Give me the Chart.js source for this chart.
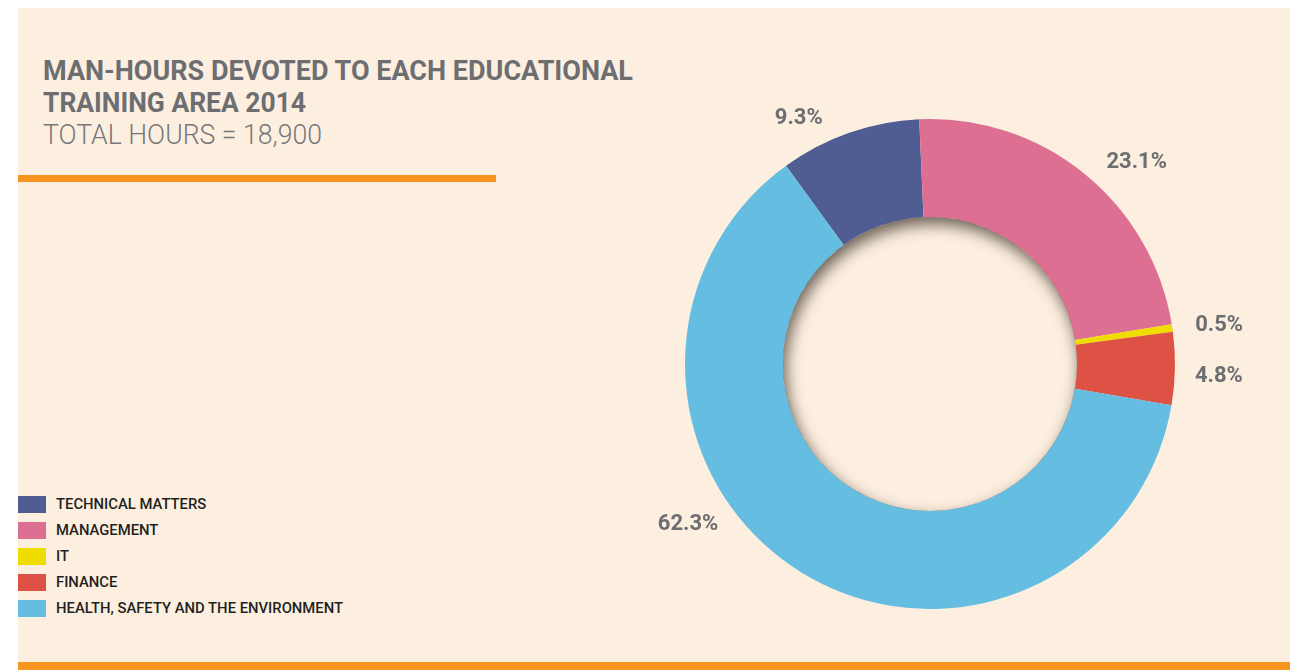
<!DOCTYPE html>
<html>
<head>
<meta charset="utf-8">
<script src="https://cdn.jsdelivr.net/npm/chart.js@4.4.1/dist/chart.umd.min.js"></script>
<style>
  html, body { margin: 0; padding: 0; background: #ffffff; }
  body { width: 1290px; height: 670px; position: relative; overflow: hidden; font-family: Roboto, "Open Sans", sans-serif; }
  #panel { position: absolute; left: 18px; top: 8px; width: 1272px; height: 654px; background: #fdefe0; }
  #bottomBar { position: absolute; left: 18px; top: 662px; width: 1272px; height: 8px; background: #f7941d; }
  #titleRule { position: absolute; left: 18px; top: 175px; width: 478px; height: 7px; background: #f7941d; }
  .tline { position: absolute; left: 43px; white-space: nowrap; font-size: 28px; line-height: 28px; color: #6d6e71; transform-origin: 0 0; }
  #t1, #t2 { font-weight: 700; }
  #t3 { font-weight: 300; color: #76777a; }
  #legend { position: absolute; left: 18px; top: 496px; }
  .lrow { display: flex; align-items: center; height: 17px; margin-bottom: 9px; }
  .sw { width: 28px; height: 17px; flex: none; }
  .lt { margin-left: 10px; font-size: 15.5px; line-height: 17px; font-weight: 500; color: #231f20; white-space: nowrap; transform-origin: 0 50%; display: inline-block; }
  #wrap { position: absolute; left: 0; top: 0; width: 1290px; height: 670px; }
</style>
</head>
<body>
<div id="panel"></div>
<div id="titleRule"></div>
<div id="bottomBar"></div>
<div class="tline" id="t1"></div>
<div class="tline" id="t2"></div>
<div class="tline" id="t3"></div>
<div id="legend"></div>
<div id="wrap"><canvas id="c" width="1290" height="670"></canvas></div>
<script>
// ---- data ----
const titleLines = ["MAN-HOURS DEVOTED TO EACH EDUCATIONAL", "TRAINING AREA 2014", "TOTAL HOURS = 18,900"];
const categories = ["TECHNICAL MATTERS", "MANAGEMENT", "IT", "FINANCE", "HEALTH, SAFETY AND THE ENVIRONMENT"];
const shares = [9.3, 23.1, 0.5, 4.8, 62.3];
const colors = ["#4f5d93", "#dd6f93", "#efdc00", "#dd5245", "#65bde2"];

// ---- title ----
const titleTops = [57, 89, 120.5];
const titleWidths = [590, 263, 279];
["t1","t2","t3"].forEach((id, i) => {
  const el = document.getElementById(id);
  el.textContent = titleLines[i];
  el.style.top = titleTops[i] + "px";
  const w = el.getBoundingClientRect().width;
  el.style.transform = "scaleX(" + (titleWidths[i] / w) + ")";
});

// ---- legend ----
const legend = document.getElementById("legend");
const spans = [];
categories.forEach((c, i) => {
  const row = document.createElement("div");
  row.className = "lrow";
  const sw = document.createElement("div");
  sw.className = "sw"; sw.style.background = colors[i];
  const t = document.createElement("span");
  t.className = "lt"; t.textContent = c;
  row.appendChild(sw); row.appendChild(t);
  legend.appendChild(row);
  spans.push(t);
});
const longest = spans[4].getBoundingClientRect().width;
const lscale = 287 / longest;
spans.forEach(s => s.style.transform = "scaleX(" + lscale + ")");

// ---- chart ----
const innerShadow = {
  id: "innerShadow",
  afterDatasetsDraw(chart) {
    const arc = chart.getDatasetMeta(0).data[0];
    if (!arc) return;
    const {x, y, innerRadius: r} = arc.getProps(["x", "y", "innerRadius"], true);
    const ctx = chart.ctx;
    ctx.save();
    ctx.beginPath(); ctx.arc(x, y, r, 0, Math.PI * 2); ctx.clip();
    ctx.beginPath();
    ctx.rect(x - r - 200, y - r - 200, 2 * r + 400, 2 * r + 400);
    ctx.arc(x, y, r, 0, Math.PI * 2, true);
    ctx.shadowColor = "rgba(70,60,50,0.8)";
    ctx.shadowBlur = 15;
    ctx.shadowOffsetX = 3;
    ctx.shadowOffsetY = 7;
    ctx.fillStyle = "#6b6259";
    ctx.fill("evenodd");
    ctx.restore();
  }
};

const pctLabels = {
  id: "pctLabels",
  afterDatasetsDraw(chart, args, opts) {
    const meta = chart.getDatasetMeta(0);
    const ctx = chart.ctx;
    const fs = opts.size;
    ctx.save();
    ctx.font = "700 " + fs + "px Roboto";
    ctx.fillStyle = opts.color;
    ctx.textAlign = "center";
    ctx.textBaseline = "alphabetic";
    meta.data.forEach((a, i) => {
      const p = a.getProps(["x", "y", "startAngle", "endAngle"], true);
      const mid = (p.startAngle + p.endAngle) / 2 + opts.shift[i] * Math.PI / 180;
      const rad = opts.radius[i];
      const tx = p.x + Math.cos(mid) * rad;
      const ty = p.y + Math.sin(mid) * rad;
      const val = chart.data.datasets[0].data[i];
      ctx.fillText(val.toFixed(1) + "%", tx, ty + 0.355 * fs);
    });
    ctx.restore();
  }
};

new Chart(document.getElementById("c"), {
  type: "doughnut",
  data: {
    labels: categories,
    datasets: [{
      data: shares,
      backgroundColor: colors,
      borderWidth: 0,
      hoverOffset: 0
    }]
  },
  options: {
    responsive: false,
    animation: false,
    events: [],
    rotation: -36,
    cutout: "60%",
    layout: { padding: { left: 685, right: 115, top: 119, bottom: 61 } },
    plugins: {
      legend: { display: false },
      tooltip: { enabled: false },
      pctLabels: {
        size: 22,
        color: "#6d6e71",
        shift: [-8.7, 6.4, 0.5, 0.9, 25],
        radius: [280, 290, 292, 289, 289]
      }
    }
  },
  plugins: [innerShadow, pctLabels]
});
</script>
</body>
</html>
